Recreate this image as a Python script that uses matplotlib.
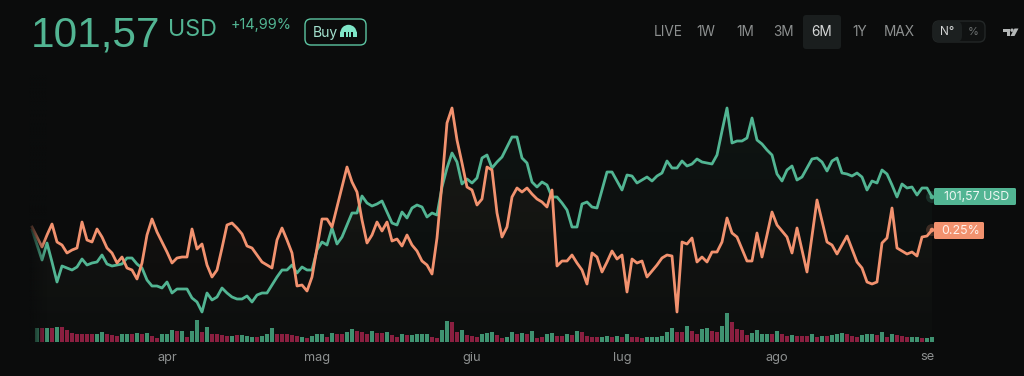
import numpy as np
import matplotlib
matplotlib.use('Agg')
import matplotlib.pyplot as plt
from matplotlib.patches import FancyBboxPatch, Circle, Wedge, Rectangle, Polygon

plt.rcParams['font.family'] = ['Inter', 'DejaVu Sans']

# Values, on the chart's own height scale
price = [100,85,70,87,68,48,64,62,60,63,71,65,67,68,75,66,64,65,66,72,72,66,62,50,44,44,42,48,37,41,
         41,41,32,28,18,37,30,33,42,37,33,31,31,34,28,35,37,37,45,53,60,60,65,57,63,60,60,80,88,85,
         102,86,93,105,117,117,134,127,124,126,129,118,107,105,118,112,122,125,123,113,117,115,143,162,177,168,146,151,147,152,
         172,175,162,168,173,183,193,193,172,167,148,143,148,145,133,133,127,120,103,103,126,128,123,122,140,158,158,149,140,155,
         154,147,150,153,149,154,157,169,162,162,169,164,166,171,168,167,166,175,199,222,187,189,189,192,212,190,186,180,175,156,
         149,160,164,150,153,162,171,172,168,159,169,172,157,156,154,157,153,140,149,147,160,156,145,133,146,142,143,135,142,142,133]
change = [103,93,83,95,106,88,85,77,80,82,108,90,88,101,93,82,77,67,73,62,60,51,67,95,111,98,88,78,67,72,
          73,73,101,81,86,65,53,60,82,105,107,102,96,84,82,75,68,65,62,90,102,90,77,44,45,39,53,82,111,111,
          103,123,143,163,148,138,110,87,95,108,99,108,89,91,84,95,85,79,69,65,56,92,147,207,222,190,167,143,140,125,
          131,163,160,117,93,103,133,142,138,142,136,131,128,123,140,64,69,69,75,67,60,46,77,73,58,68,79,71,75,38,
          71,67,69,53,59,65,72,75,74,18,88,86,92,68,73,68,78,78,88,112,97,93,81,69,69,97,73,95,118,105,
          99,93,77,102,80,58,94,130,109,88,85,76,85,94,81,68,62,48,46,48,87,92,122,82,79,76,78,74,93,94,100]
volume = [40,40,40,40,44,43,35,27,24,24,24,22,24,28,23,20,17,22,24,23,25,23,25,16,12,22,24,35,32,32,
          15,32,65,30,43,23,22,20,18,18,20,20,17,15,14,18,24,40,24,23,22,20,18,15,12,16,23,24,15,25,
          24,22,28,38,32,28,23,32,25,25,30,20,15,22,20,20,22,22,24,14,12,35,63,58,30,35,20,17,15,23,
          25,28,20,12,15,28,23,25,22,32,12,14,22,25,18,18,22,20,32,28,17,14,14,14,18,14,18,15,24,15,
          14,12,14,15,14,18,28,42,30,30,48,33,23,38,40,32,30,47,87,58,38,36,20,25,34,23,23,23,
          33,22,18,20,18,16,18,22,15,18,18,20,23,27,24,16,14,20,22,22,20,28,14,22,20,18,14,15,15,12,12,13]
volume_up = [1,0,1,0,1,0,0,0,0,0,0,0,1,1,0,0,0,1,1,0,1,0,1,0,0,1,1,1,0,1,
             0,1,1,0,1,0,0,0,0,1,0,1,1,1,0,1,1,1,0,0,0,0,0,1,0,1,1,1,0,1,
             0,0,1,1,0,0,0,1,0,0,1,0,0,1,0,1,1,1,1,0,0,1,1,0,0,1,0,0,0,1,
             1,1,0,0,1,1,0,1,0,1,0,0,1,1,0,0,1,0,1,0,0,0,0,1,1,0,1,0,1,0,
             0,0,1,1,1,1,1,1,0,0,1,0,0,1,1,0,0,1,1,0,0,0,0,1,1,1,1,0,1,0,
             0,1,0,0,0,1,0,1,0,1,1,1,0,0,0,1,1,1,0,1,0,1,0,0,0,1,1,0,1,1]
month_days = [27, 57, 88, 118, 149, 179]
month_labels = ['apr', 'mag', 'giu', 'lug', 'ago', 'se']
ranges = ['LIVE', '1W', '1M', '3M', '6M', '1Y', 'MAX']

BG = '#0b0c0c'
GREEN = '#52b593'
ORANGE = '#f2926f'

fig = plt.figure(figsize=(10.24, 3.76), dpi=100, facecolor=BG)

# chart layer: 5 px per day, day 0 sits 32 px in
ax = fig.add_axes([0, 0, 1, 1], facecolor=BG)
ax.axis('off')
days = np.arange(len(price))


def gradient_fill(values, rgb, top_alpha, bottom_alpha):
    poly = ax.fill_between(days, values, -14, color='none')
    grad = np.zeros((100, 2, 4))
    grad[..., :3] = matplotlib.colors.to_rgb(rgb)
    grad[..., 3] = np.linspace(top_alpha, bottom_alpha, 100)[:, None]
    im = ax.imshow(grad, extent=[0, 180, -14, 225], aspect='auto', origin='upper', zorder=1)
    im.set_clip_path(poly.get_paths()[0], transform=ax.transData)


gradient_fill(price, GREEN, 0.05, 0.015)
gradient_fill(change, ORANGE, 0.06, 0.005)
ax.set_xlim(-6.4, 198.4)
ax.set_ylim(-46, 330)

ax.plot(days, price, color=GREEN, lw=2.0, solid_joinstyle='round', zorder=3)
ax.plot(days, change, color=ORANGE, lw=2.0, solid_joinstyle='round', zorder=4)

# volume layer
ax_vol = fig.add_axes([0, 0, 1, 1], facecolor='none')
ax_vol.axis('off')
bar_colors = ['#3f9271' if u else '#8a1f40' for u in volume_up]
ax_vol.bar(np.arange(len(volume)) + 0.94, volume, width=0.8, color=bar_colors)

# fade on the left edge of the series
fade = np.zeros((1, 60, 4))
fade[..., :3] = matplotlib.colors.to_rgb(BG)
fade[..., 3] = np.linspace(0.9, 0, 60)
ax_vol.imshow(fade, extent=[-0.6, 3, 0, 800], aspect='auto', zorder=6)
ax_vol.set_xlim(-6.4, 198.4)
ax_vol.set_ylim(-103, 1025)

# interface layer in picture pixels
ui = fig.add_axes([0, 0, 1, 1], facecolor='none')
ui.set_xlim(0, 1024)
ui.set_ylim(376, 0)
ui.axis('off')

for d, lab in zip(month_days, month_labels):
    ui.text(32 + d * 5, 357.5, lab, color='#8d9090', fontsize=9.2, ha='center', va='center')

ui.text(31, 47, '101,57', color=GREEN, fontsize=30.5, family='Liberation Sans', ha='left', va='baseline')
ui.text(168, 35.5, 'USD', color=GREEN, fontsize=16.8, ha='left', va='baseline')
ui.text(231, 29, '+14,99%', color=GREEN, fontsize=10.4, ha='left', va='baseline')

ui.add_patch(FancyBboxPatch((305, 19), 61, 26, boxstyle='round,pad=0,rounding_size=6',
                            fc='none', ec='#5cc4a2', lw=1))
ui.text(313, 37, 'Buy', color='#a5e3d0', fontsize=10, ha='left', va='baseline')

# kraken mark
ui.add_patch(Wedge((348.5, 33), 8.2, 180, 360, fc='#7fe6c8', ec='none'))
ui.add_patch(Rectangle((340.3, 32), 16.4, 5, fc='#7fe6c8', ec='none'))
for sx in (344.2, 347.6, 351):
    ui.add_patch(Rectangle((sx, 32), 1.5, 6, fc=BG, ec='none'))

ui.add_patch(FancyBboxPatch((803, 15), 38, 34, boxstyle='round,pad=0,rounding_size=3',
                            fc='#1a1e1e', ec='none'))
for cx, lab in zip([668, 706, 745, 783, 822, 860, 899], ranges):
    col = '#d5d7d7' if lab == '6M' else '#8d9090'
    ui.text(cx, 32.5, lab, color=col, fontsize=9.8, ha='center', va='center')

ui.add_patch(FancyBboxPatch((933, 21), 52, 21, boxstyle='round,pad=0,rounding_size=6',
                            fc='#101212', ec='#232727', lw=1))
ui.add_patch(FancyBboxPatch((933, 21), 29, 21, boxstyle='round,pad=0,rounding_size=6',
                            fc='#1c2020', ec='none'))
ui.text(947, 32, 'N°', color='#d5d7d7', fontsize=8.5, ha='center', va='center')
ui.text(973, 32, '%', color='#6e7272', fontsize=8, ha='center', va='center')

# tradingview mark
ui.add_patch(Polygon([(1003, 28.5), (1010, 28.5), (1010, 36), (1007, 36), (1007, 32), (1003, 32)],
                     fc='#b4b7b7', ec='none'))
ui.add_patch(Circle((1012, 30.2), 1.7, fc='#b4b7b7', ec='none'))
ui.add_patch(Polygon([(1014.5, 28.5), (1018.5, 28.5), (1014.5, 36), (1010.5, 36)], fc='#b4b7b7', ec='none'))

# last value tags
ui.add_patch(Circle((932, 197), 6, fc=GREEN, alpha=0.18, ec='none'))
ui.add_patch(Circle((932, 197), 2.3, fc=GREEN, ec='none'))
ui.add_patch(Circle((932, 230), 6, fc=ORANGE, alpha=0.22, ec='none'))
ui.add_patch(Circle((932, 230), 2.3, fc=ORANGE, ec='none'))
ui.add_patch(FancyBboxPatch((934, 188), 82, 17, boxstyle='round,pad=0,rounding_size=1.5', fc=GREEN, ec='none'))
ui.add_patch(FancyBboxPatch((934, 222), 50, 17, boxstyle='round,pad=0,rounding_size=1.5', fc=ORANGE, ec='none'))
ui.text(977, 196.5, '101,57 USD', color='#eef7f3', fontsize=8.9, ha='center', va='center')
ui.text(961, 230.5, '0.25%', color='#fff1ea', fontsize=8.9, ha='center', va='center')

fig.savefig('out.png', dpi=100, facecolor=BG)
plt.close()
